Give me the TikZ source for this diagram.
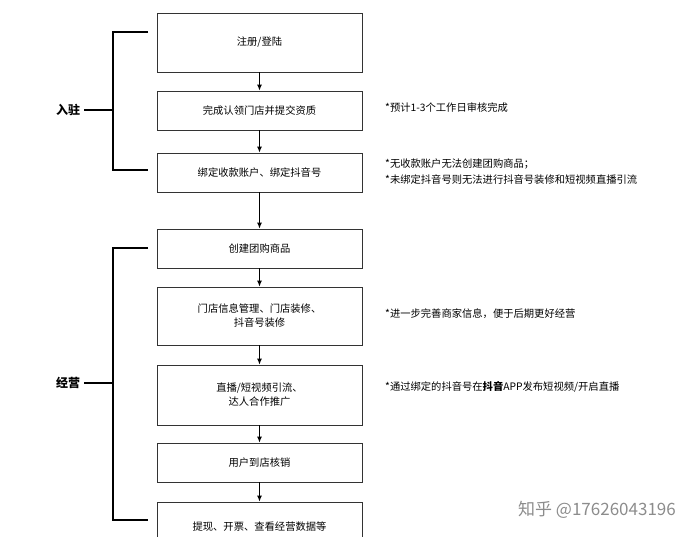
\documentclass[tikz,border=0pt]{standalone}
\usepackage{fontspec}
\setmainfont{Noto Sans CJK SC}
\usetikzlibrary{arrows.meta}
\begin{document}
\begin{tikzpicture}[x=1pt,y=-1pt,
  boxx/.style={draw=black!80,line width=0.9pt,fill=white,minimum width=205pt,align=center,font=\fontsize{10.3}{14}\selectfont,inner sep=0pt},
  arr/.style={-{Latex[length=6pt,width=5pt]},line width=0.9pt},
  brk/.style={line width=1.3pt},
  note/.style={anchor=west,align=left,font=\fontsize{10.3}{16}\selectfont,inner sep=0pt},
  lab/.style={font=\bfseries\fontsize{12}{14}\selectfont,inner sep=0pt}]
\useasboundingbox (0,0) rectangle (691,536);
\clip (0,0) rectangle (691,536);
\node[boxx,minimum height=59pt] (b1) at (259.5,42.5) {注册/登陆};
\node[boxx,minimum height=39pt] (b2) at (259.5,110.5) {完成认领门店并提交资质};
\node[boxx,minimum height=39pt] (b3) at (259.5,172.5) {绑定收款账户、绑定抖音号};
\node[boxx,minimum height=39pt] (b4) at (259.5,248.5) {创建团购商品};
\node[boxx,minimum height=58pt] (b5) at (259.5,316) {门店信息管理、门店装修、\\抖音号装修};
\node[boxx,minimum height=60pt] (b6) at (259.5,395) {直播/短视频引流、\\达人合作推广};
\node[boxx,minimum height=39pt] (b7) at (259.5,462.5) {用户到店核销};
\node[boxx,minimum height=50pt] (b8) at (259.5,527) {提现、开票、查看经营数据等};
\foreach \a/\b in {b1/b2,b2/b3,b3/b4,b4/b5,b5/b6,b6/b7,b7/b8} \draw[arr] (\a) -- (\b);
\coordinate (t1) at (148,32); \coordinate (t2) at (148,170);
\coordinate (t3) at (148,248); \coordinate (t4) at (148,520);
\draw[brk] (t1) -- (113,32) -- (113,170) -- (t2);
\draw[brk] (t3) -- (113,248) -- (113,520) -- (t4);
\node[lab] (l1) at (68,110) {入驻};
\node[lab] (l2) at (68,383) {经营};
\draw[brk] (l1.east)++(4,0) coordinate (c1) -- (113,110);
\draw[brk] (l2.east)++(4,0) coordinate (c2) -- (113,383);
\node[note] (n1) at (385,108) {*预计1-3个工作日审核完成};
\node[note] (n2) at (385,172) {*无收款账户无法创建团购商品；\\*未绑定抖音号则无法进行抖音号装修和短视频直播引流};
\node[note] (n3) at (385,314) {*进一步完善商家信息，便于后期更好经营};
\node[note] (n4) at (385,387) {*通过绑定的抖音号在\textbf{抖音}APP发布短视频/开启直播};
\node[anchor=east,text=black!45,font=\fontsize{17}{20}\selectfont,inner sep=0pt] (wm) at (676,510) {知乎 @17626043196};
\end{tikzpicture}
\end{document}
